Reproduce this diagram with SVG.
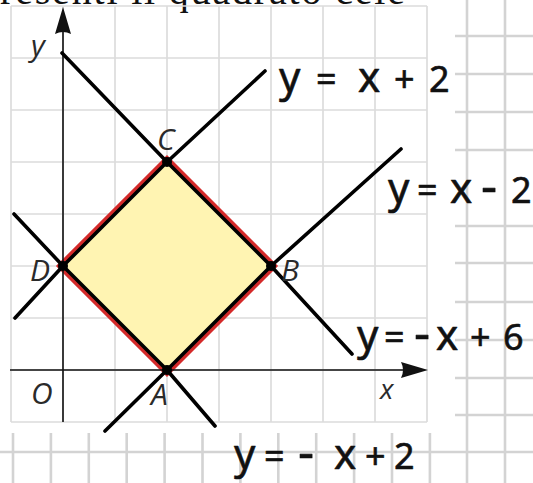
<svg xmlns="http://www.w3.org/2000/svg" width="533" height="483" viewBox="0 0 533 483">
<defs>
<style>
.paper{stroke:#d3d3d3;stroke-width:2.6;fill:none}
.grid{stroke:#dcdcdc;stroke-width:1.7;fill:none}
.axis{stroke:#111;stroke-width:1.6;fill:none}
.hand{stroke:#000;stroke-width:3.6;fill:none;stroke-linecap:round;stroke-linejoin:round}
.lbl{font-family:"Open Sans","DejaVu Sans",sans-serif;font-style:italic;font-size:30px;fill:#2a2a2a}
.hw{font-family:"Noto Sans","DejaVu Sans",sans-serif;font-size:36px;fill:#111;stroke:#111;stroke-width:0.6;stroke-linejoin:round}
.hw .lc{font-size:42px}
.hw .dash{font-size:50px}
.top{font-family:"Liberation Serif",serif;font-size:40px;fill:#111}
</style>
</defs>
<rect width="533" height="483" fill="#fff"/>
<text class="top" x="0" y="4" textLength="405" lengthAdjust="spacing">resenti il quadrato cele</text>
<g id="paper">
<path class="paper" d="M467,0V483M505,0V483M455,36H533M455,74H533M455,112H533M455,150H533M455,226H533M455,263H533M455,302H533M455,340H533M455,378H533M455,415H533M0,452H533M13,433V483M50.9,433V483M88.8,433V483M126.7,433V483M164.6,433V483M202.5,433V483M240.4,433V483M278.3,433V483M316.2,433V483M354.1,433V483M392,433V483M429.9,433V483"/>
</g>
<g id="grid">
<path class="grid" d="M11,6V422M63,6V422M115,6V422M167,6V422M219,6V422M271,6V422M323,6V422M375,6V422M427,6V422M11,6H427M11,58H427M11,110H427M11,162H427M11,214H427M11,266H427M11,318H427M11,370H427M11,422H427"/>
</g>
<g id="square">
<polygon points="167,370 271,266 167,162 63,266" fill="none" stroke="#d42a2a" stroke-width="10"/>
<polygon points="167,370 271,266 167,162 63,266" fill="#fff4b2"/>
</g>
<g id="axes">
<path class="axis" d="M63,422V28M10,370H405"/>
<path d="M63,7L55,34Q63,30 71,34Z" fill="#111"/>
<path d="M428,370L401,362Q405,370 401,378Z" fill="#111"/>
</g>
<g id="connectors">
<path id="line-y-negx6" class="hand" d="M62,53L167,162L271,266L352,354"/>
<path id="line-y-x2" class="hand" d="M15,318L63,266L167,162L265,71"/>
<path id="line-y-x-2" class="hand" d="M105,431L167,370L271,266L401,149"/>
<path id="line-y-negx2" class="hand" d="M14,214L63,266L167,370L215,426"/>
</g>
<g id="point-A"><circle cx="167" cy="370" r="5" fill="#000"/><text class="lbl" x="151" y="405">A</text></g>
<g id="point-B"><circle cx="271" cy="266" r="5" fill="#000"/><text class="lbl" x="281" y="281">B</text></g>
<g id="point-C"><circle cx="167" cy="162" r="5" fill="#000"/><text class="lbl" x="157" y="150">C</text></g>
<g id="point-D"><circle cx="63" cy="266" r="5" fill="#000"/><text class="lbl" x="30" y="281">D</text></g>
<g id="axis-labels">
<text class="lbl" x="31" y="404">O</text>
<text class="lbl" x="380" y="399" style="font-size:28px">x</text>
<text class="lbl" x="31" y="56">y</text>
</g>
<g id="equations">
<text class="hw" y="92"><tspan class="lc" x="279">y</tspan><tspan x="316">=</tspan><tspan class="lc" x="358">x</tspan><tspan x="394">+</tspan><tspan x="429">2</tspan></text>
<text class="hw" y="203"><tspan class="lc" x="388">y</tspan><tspan x="417">=</tspan><tspan class="lc" x="450">x</tspan><tspan class="dash" x="481">-</tspan><tspan x="511">2</tspan></text>
<text class="hw" y="350"><tspan class="lc" x="357">y</tspan><tspan x="384">=</tspan><tspan class="dash" x="414">-</tspan><tspan class="lc" x="436">x</tspan><tspan x="470">+</tspan><tspan x="503">6</tspan></text>
<text class="hw" y="469"><tspan class="lc" x="234">y</tspan><tspan x="264">=</tspan><tspan class="dash" x="298">-</tspan><tspan class="lc" x="334">x</tspan><tspan x="365">+</tspan><tspan x="394">2</tspan></text>
</g>
</svg>
